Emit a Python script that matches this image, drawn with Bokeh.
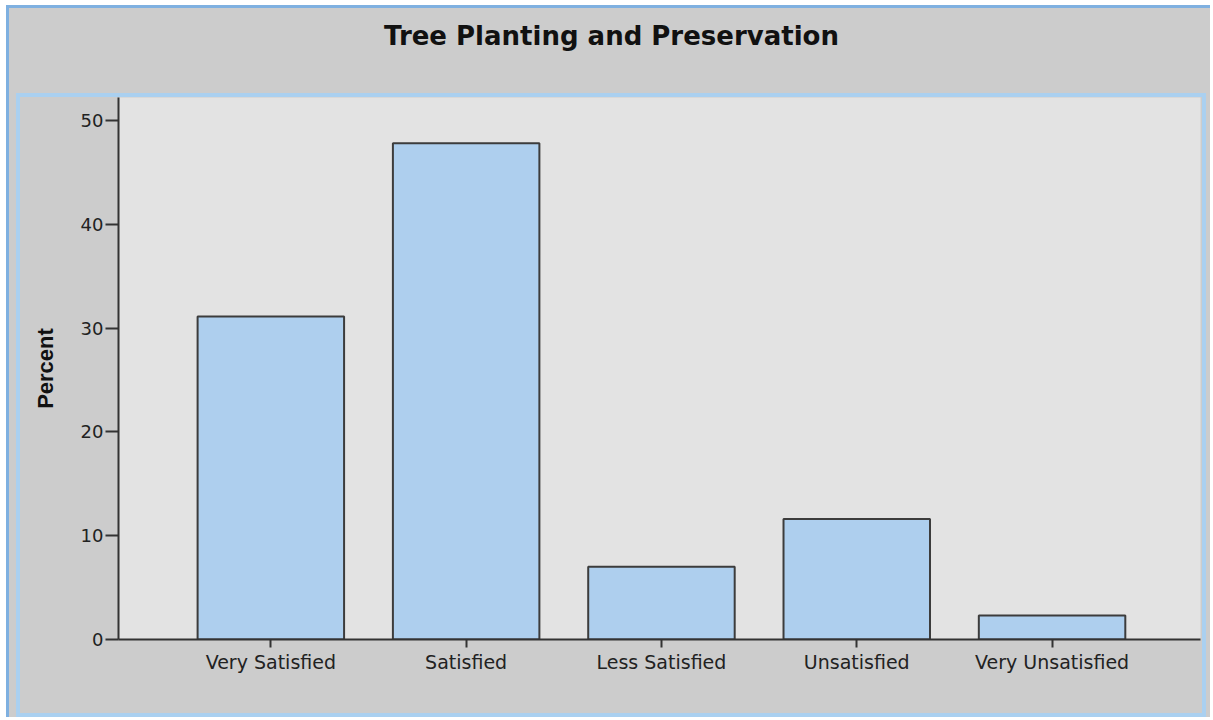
from bokeh.plotting import figure
from bokeh.models import Range1d, FixedTicker, Label
from bokeh.layouts import column
from bokeh.embed import file_html
from bokeh.resources import INLINE

# ---- data ----
categories = ["Very Satisfied", "Satisfied", "Less Satisfied", "Unsatisfied", "Very Unsatisfied"]
percent = [31.1, 47.8, 7.0, 11.6, 2.3]
y_ticks = [0, 10, 20, 30, 40, 50]
title_text = "Tree Planting and Preservation"
y_label = "Percent"

xs = list(range(len(categories)))

GRAY = "#cccccc"

# ---- title strip ----
TW, TH = 1204, 85
pt = figure(width=TW, height=TH, output_backend="svg", toolbar_location=None,
            x_range=Range1d(0, 1), y_range=Range1d(0, 1),
            x_axis_type=None, y_axis_type=None,
            min_border=0, min_border_left=0, min_border_right=0,
            min_border_top=0, min_border_bottom=0)
pt.background_fill_color = GRAY
pt.border_fill_color = GRAY
pt.outline_line_color = None
pt.grid.visible = False
# the column aligns this strip's frame with the chart's frame (left edge at page x=107)
pt.add_layout(Label(x=611 - 107, y=TH - 27, x_units="screen", y_units="screen",
                    text=title_text, text_font="DejaVu Sans", text_font_style="bold",
                    text_font_size="26px", text_align="center", text_baseline="middle",
                    text_color="#111111"))

# ---- chart ----
W, H = 1182, 616
p = figure(width=W, height=H, output_backend="svg", toolbar_location=None,
           x_range=Range1d(-0.78, 4.76), y_range=Range1d(0, 52.2),
           min_border_left=98, min_border_right=2,
           min_border_top=0, min_border_bottom=74,
           styles={"outline": "4px solid #aad0f0", "margin-left": "11px",
                   "margin-top": "4px"})

p.background_fill_color = "#e3e3e3"
p.border_fill_color = GRAY
p.outline_line_color = None
p.grid.visible = False

p.vbar(x=xs, top=percent, width=0.75, bottom=0,
       fill_color="#aecfee", line_color="#3c3c3c", line_width=2)

for ax in (p.xaxis[0], p.yaxis[0]):
    ax.axis_line_color = "#333333"
    ax.axis_line_width = 2
    ax.major_tick_line_color = "#333333"
    ax.major_tick_line_width = 2
    ax.major_tick_in = 0
    ax.minor_tick_line_color = None
    ax.major_label_text_font = "DejaVu Sans"
    ax.major_label_text_color = "#222222"

p.xaxis.major_label_text_font_size = "19px"
p.yaxis.major_label_text_font_size = "18px"

p.xaxis.ticker = FixedTicker(ticks=xs)
p.xaxis.major_label_overrides = {i: c for i, c in enumerate(categories)}
p.xaxis.major_tick_out = 8
p.xaxis.major_label_standoff = 3

p.yaxis.ticker = FixedTicker(ticks=y_ticks)
p.yaxis.major_tick_out = 13
p.yaxis.major_label_standoff = 2
p.yaxis.axis_label = y_label
p.yaxis.axis_label_text_font = "Liberation Sans"
p.yaxis.axis_label_text_font_style = "bold"
p.yaxis.axis_label_text_font_size = "22px"
p.yaxis.axis_label_text_color = "#111111"
p.yaxis.axis_label_standoff = 20

root = column(pt, p, spacing=0, width=1204, height=712,
              styles={"margin-left": "6px", "margin-top": "5px",
                      "border-left": "3px solid #7fb0e0",
                      "border-top": "3px solid #7fb0e0",
                      "background-color": GRAY})

open("out.html", "w").write(file_html(root, INLINE))
